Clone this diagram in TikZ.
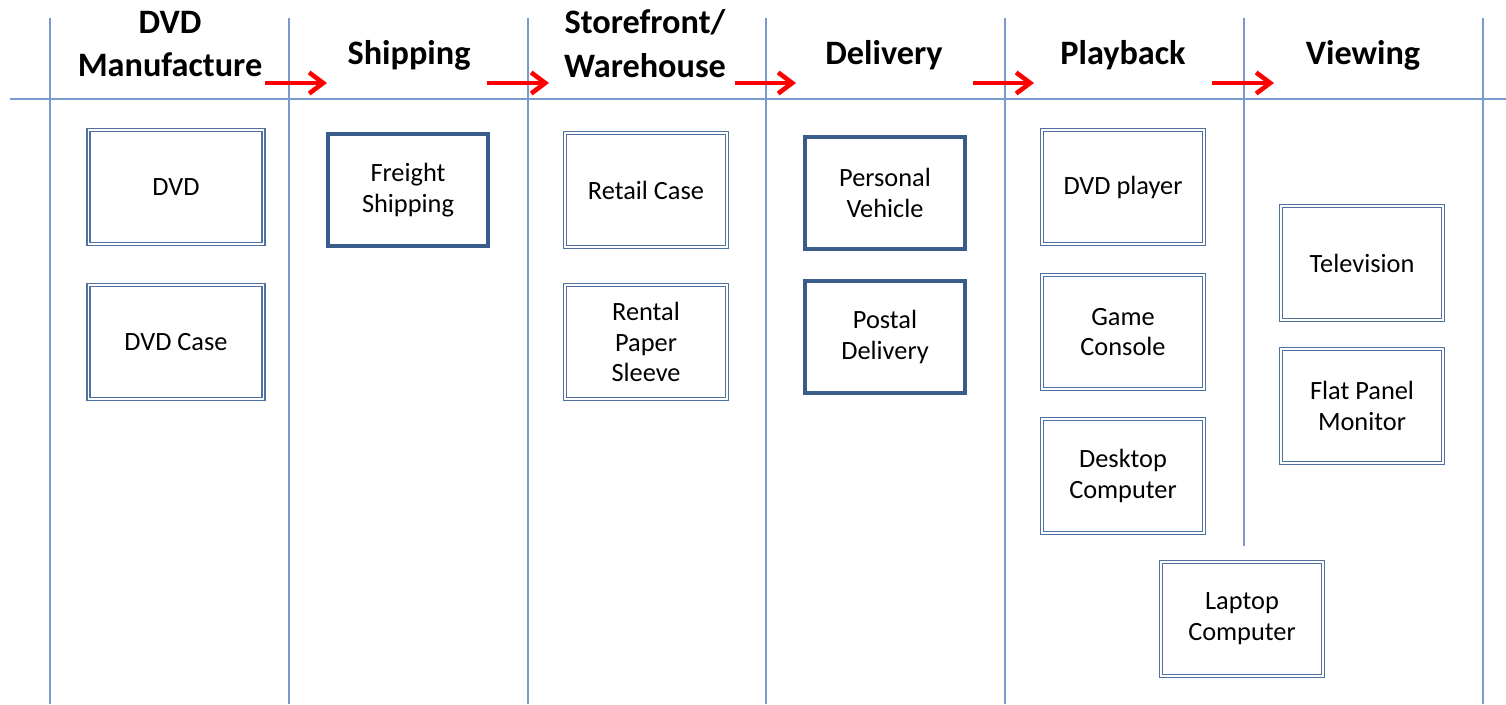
\documentclass[tikz,border=0pt]{standalone}
\usepackage{fontspec}
\setmainfont{Carlito}
\usetikzlibrary{arrows.meta}
\definecolor{lanecol}{RGB}{120,154,204}
\definecolor{itemcol}{RGB}{80,112,160}
\definecolor{boldcol}{RGB}{58,92,138}

\begin{document}
\begin{tikzpicture}[x=0.02cm,y=-0.02cm,
  lane/.style={draw=lanecol,line width=0.9pt},
  head/.style={font=\fontsize{19.5}{25}\selectfont\bfseries,align=center},
  item/.style={draw=itemcol,double=white,double distance=1.1pt,line width=0.75pt,
    minimum width=3.24cm,minimum height=2.28cm,align=center,
    font=\fontsize{15}{17.6}\selectfont},
  wide/.style={item,minimum width=3.5cm},
  solid box/.style={draw=boldcol,line width=2.2pt,minimum width=3.2cm,minimum height=2.24cm,
    align=center,font=\fontsize{15}{17.6}\selectfont},
  flow/.style={-{Straight Barb[length=8pt,width=12pt]},red,line width=2.6pt}]

        \useasboundingbox (0,0) rectangle (1506,704);

        % lanes
        \draw[lane] (10,99) -- (1506,99);
        \foreach \x in {50,289,528,766,1005,1483}
                \draw[lane] (\x,18) -- (\x,704);
        \draw[lane] (1244,18) -- (1244,546);

        % headings
        \node[head] (Hman)   at (170,44) {DVD\\Manufacture};
        \node[head] (Hship)  at (409,55) {Shipping};
        \node[head] (Hstore) at (645,44) {Storefront/\\Warehouse};
        \node[head] (Hdel)   at (884,55) {Delivery};
        \node[head] (Hplay)  at (1123,55) {Playback};
        \node[head] (Hview)  at (1363,55) {Viewing};

        \coordinate (A1s) at (265,83);  \coordinate (A1e) at (327,83);
        \coordinate (A2s) at (487,83);  \coordinate (A2e) at (549,83);
        \coordinate (A3s) at (735,83);  \coordinate (A3e) at (796,83);
        \coordinate (A4s) at (973,83);  \coordinate (A4e) at (1034,83);
        \coordinate (A5s) at (1212,83); \coordinate (A5e) at (1274,83);

        \draw[flow] (A1s) -- (A1e);
        \draw[flow] (A2s) -- (A2e);
        \draw[flow] (A3s) -- (A3e);
        \draw[flow] (A4s) -- (A4e);
        \draw[flow] (A5s) -- (A5e);

        % lane items
        \node[wide]      (dvd)      at (176,187)  {DVD};
        \node[wide]      (case)     at (176,342)  {DVD Case};
        \node[solid box] (freight)  at (408,190)  {Freight\\Shipping};
        \node[item]      (retail)   at (646,190)  {Retail Case};
        \node[item]      (sleeve)   at (646,342)  {Rental\\Paper\\Sleeve};
        \node[solid box] (vehicle)  at (885,193)  {Personal\\Vehicle};
        \node[solid box] (postal)   at (885,337)  {Postal\\Delivery};
        \node[item]      (player)   at (1123,187) {DVD player};
        \node[item]      (console)  at (1123,332) {Game\\Console};
        \node[item]      (desktop)  at (1123,476) {Desktop\\Computer};
        \node[item]      (tv)       at (1362,263) {Television};
        \node[item]      (monitor)  at (1362,406) {Flat Panel\\Monitor};
        \node[item]      (laptop)   at (1242,619) {Laptop\\Computer};
\end{tikzpicture}
\end{document}
